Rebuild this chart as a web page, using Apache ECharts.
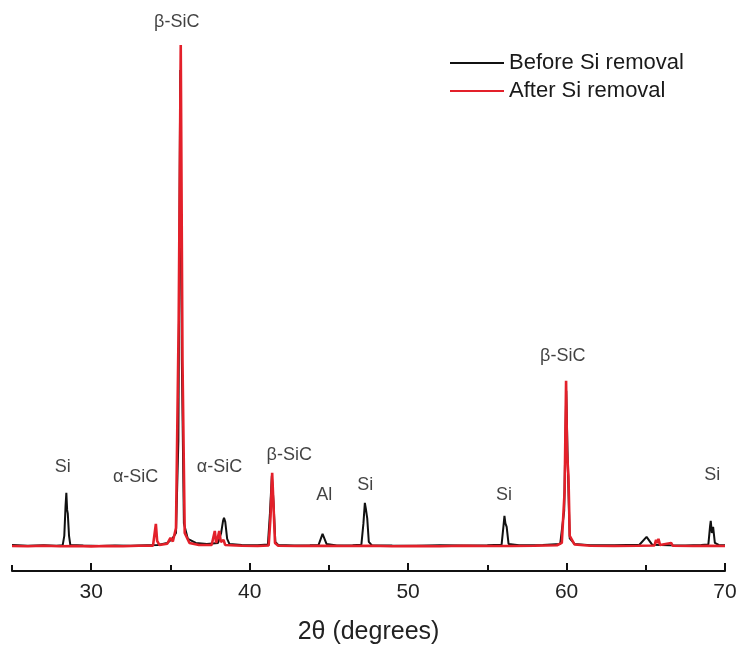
<!DOCTYPE html>
<html>
<head>
<meta charset="utf-8">
<script src="https://cdn.jsdelivr.net/npm/echarts@6/dist/echarts.min.js"></script>
<style>html,body{margin:0;padding:0;background:#fff}#c{width:739px;height:645px}</style>
</head>
<body>
<div id="c"></div>
<script>
// 2θ (degrees), intensity (a.u.)
var beforeSi = [
  [25,520],[26,505],[27,515],[27.8,505],[28.2,515],[28.3,700],[28.38,1300],[28.43,1560],[28.48,1220],[28.52,1150],[28.6,700],[28.68,520],
  [29.5,510],[30.5,500],[31.5,510],[32.5,505],[33.5,515],[34.2,520],[34.8,560],[35.1,640],[35.35,760],[35.5,2600],[35.62,10000],
  [35.72,4200],[35.85,950],[36.1,640],[36.6,560],[37.3,540],[38.0,560],[38.2,760],[38.32,1000],[38.38,1060],[38.46,980],[38.58,640],[38.72,540],
  [39.5,520],[40.5,515],[41.15,530],[41.28,1150],[41.4,1900],[41.5,1400],[41.62,580],[41.8,520],[42.8,510],[43.8,515],
  [44.35,520],[44.6,740],[44.85,540],[45.5,510],[46.5,515],[47.05,525],[47.18,950],[47.27,1360],[47.33,1250],[47.42,1050],[47.52,580],
  [47.7,515],[49,510],[50.5,505],[52,515],[53.5,510],[55,515],[55.9,525],[56.02,900],[56.08,1100],[56.14,950],[56.22,880],[56.34,540],
  [57,515],[58.5,520],[59.6,540],[59.85,1200],[59.98,3600],[60.08,2100],[60.2,650],[60.5,540],[61.5,515],[63,515],
  [64.6,525],[65.05,680],[65.4,525],[66.5,515],[67.5,510],[68.5,520],[68.95,530],[69.06,900],[69.1,1000],[69.17,760],[69.25,880],[69.36,560],[69.6,520],[70,515]
];
var afterSi = [
  [25,500],[26,495],[27,505],[28,495],[29,500],[30,492],[31,500],[32,495],[33,505],[33.9,505],[34.0,540],[34.08,940],[34.16,600],
  [34.3,520],[34.8,545],[35.0,660],[35.15,590],[35.35,860],[35.52,5000],[35.65,10500],[35.76,4200],[35.9,760],[36.2,560],
  [36.8,520],[37.6,520],[37.72,540],[37.8,800],[37.88,560],[37.98,650],[38.08,800],[38.18,580],[38.35,620],[38.45,520],
  [39.5,505],[40.5,500],[41.2,510],[41.32,1100],[41.42,1960],[41.5,1350],[41.6,560],[41.8,505],[43,500],[44.5,505],
  [46,500],[47.5,505],[49,495],[50.5,500],[52,495],[53.5,505],[55,500],[56.5,500],[58,505],[59.4,515],[59.7,560],
  [59.88,1600],[59.97,3800],[60.03,2400],[60.07,2150],[60.12,1900],[60.2,700],[60.5,530],[61.5,505],[63,500],[64.5,505],
  [65.55,510],[65.65,620],[65.72,560],[65.8,640],[65.9,520],[66.6,560],[66.7,505],[68,500],[69,505],[70,500]
];
var peakLabels = [
  [28.2,2080,'Si'],[32.8,1880,'\u03b1-SiC'],[35.4,10960,'\u03b2-SiC'],[38.1,2080,'\u03b1-SiC'],
  [42.5,2320,'\u03b2-SiC'],[44.7,1520,'Al'],[47.3,1720,'Si'],[56.05,1520,'Si'],[59.76,4300,'\u03b2-SiC'],[69.2,1920,'Si']
];
var majorTicks = [30,40,50,60,70];
var minorTicks = [25,35,45,55,65];

var chart = echarts.init(document.getElementById('c'), null, {renderer:'canvas'});
var font = 'Liberation Sans, Arial, sans-serif';
chart.setOption({
  animation:false,
  backgroundColor:'#fff',
  textStyle:{fontFamily:font},
  legend:{
    orient:'vertical', left:445, top:47,
    icon:'rect', itemWidth:54, itemHeight:2, itemGap:6,
    textStyle:{fontSize:22, color:'#1a1a1a', fontFamily:font},
    data:['Before Si removal','After Si removal']
  },
  grid:{left:12, right:14, top:10, bottom:74, containLabel:false, outerBoundsMode:'none'},
  xAxis:[{
    type:'value', min:25, max:70,
    axisLine:{lineStyle:{color:'#111', width:2}},
    axisTick:{show:true, inside:true, length:8, customValues:majorTicks, lineStyle:{color:'#111', width:2}},
    axisLabel:{customValues:majorTicks, fontSize:21, color:'#222', margin:11, fontFamily:font, showMinLabel:true, showMaxLabel:true},
    splitLine:{show:false},
    name:'2\u03b8 (degrees)', nameLocation:'middle', nameGap:49,
    nameTextStyle:{fontSize:25, color:'#222', fontFamily:font}
  },{
    type:'value', min:25, max:70, position:'bottom',
    axisLine:{show:false},
    axisTick:{show:true, inside:true, length:6, customValues:minorTicks, lineStyle:{color:'#111', width:2}},
    axisLabel:{show:false}, splitLine:{show:false}
  }],
  yAxis:{type:'value', min:0, max:11200, show:false},
  series:[{
    name:'Before Si removal', type:'line', data:beforeSi, showSymbol:false, symbol:'none',
    lineStyle:{color:'#111', width:2}, itemStyle:{color:'#111'}, z:2
  },{
    name:'After Si removal', type:'line', data:afterSi, showSymbol:false, symbol:'none',
    lineStyle:{color:'#e3202a', width:2.6}, itemStyle:{color:'#e3202a'}, z:3
  },{
    name:'labels', type:'scatter', symbolSize:0, silent:true, clip:false,
    data:peakLabels.map(function(p){return {value:[p[0],p[1]], name:p[2]};}),
    label:{show:true, position:'inside', formatter:function(p){return p.name;}, fontSize:18, color:'#111', fontFamily:font},
    z:4
  }]
});
</script>
</body>
</html>
